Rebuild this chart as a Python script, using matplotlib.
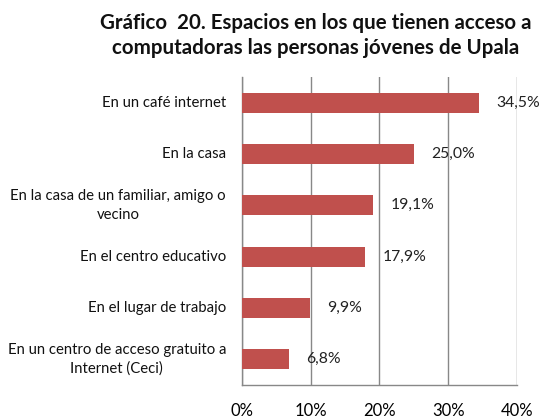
import matplotlib
matplotlib.use("Agg")
from matplotlib import pyplot as plt
from matplotlib.transforms import offset_copy, blended_transform_factory

plt.rcParams['font.family'] = 'Lato'

categories = [
    "En un café internet",
    "En la casa",
    "En la casa de un familiar, amigo o\nvecino",
    "En el centro educativo",
    "En el lugar de trabajo",
    "En un centro de acceso gratuito a\nInternet (Ceci)",
]
values = [34.5, 25.0, 19.1, 17.9, 9.9, 6.8]
xticks = [0, 10, 20, 30, 40]

barcolor = "#C0504D"
gridcolor = "#888888"

fig = plt.figure(figsize=(5.44, 4.18), dpi=100)
ax = fig.add_axes([0.445, 0.079, 0.505, 0.737])

ypos = list(range(len(categories)))
ax.barh(ypos, values, height=0.39, color=barcolor, zorder=3)

for y, v in zip(ypos, values):
    ax.text(v + 2.5, y, ("%.1f%%" % v).replace(".", ","), va="center", ha="left",
            fontsize=11.3, color="#222222", zorder=4)

ax.set_xlim(0, 40)
ax.set_ylim(len(categories) - 0.5, -0.5)
ax.set_xticks(xticks)
ax.set_xticklabels(["%d%%" % t for t in xticks], fontsize=12)
ax.set_yticks(ypos)
ax.set_yticklabels([])
ax.tick_params(axis="both", length=0)
ax.tick_params(axis="x", pad=13)

# category labels: each line placed by hand so wrapped labels are centred
renderer = fig.canvas.get_renderer()
trans = blended_transform_factory(ax.transAxes, ax.transData)
lab_kw = dict(fontsize=10.75, color="#111111", va="center")
xoff = -11.5
for y, c in zip(ypos, categories):
    lines = c.split("\n")
    if len(lines) == 1:
        ax.text(0, y, c, ha="right", transform=offset_copy(trans, fig, x=xoff, units="points"), **lab_kw)
        continue
    first = ax.text(0, y, lines[0], ha="right",
                    transform=offset_copy(trans, fig, x=xoff, y=6.8, units="points"), **lab_kw)
    bb = first.get_window_extent(renderer)
    xc = (bb.x0 + bb.x1) / 2
    second = ax.text(0, y, lines[1], ha="center",
                     transform=offset_copy(trans, fig, x=xoff, y=-6.8, units="points"), **lab_kw)
    bb2 = second.get_window_extent(renderer)
    shift = xc - (bb2.x0 + bb2.x1) / 2
    second.set_transform(offset_copy(trans, fig, x=xoff + shift * 72 / fig.dpi, y=-6.8, units="points"))

ax.grid(axis="x", color=gridcolor, linewidth=1, zorder=0)
for s in ["top", "right"]:
    ax.spines[s].set_visible(False)
for s in ["left", "bottom"]:
    ax.spines[s].set_color(gridcolor)
    ax.spines[s].set_linewidth(1)

fig.text(0.581, 0.915, "Gráfico  20. Espacios en los que tienen acceso a\ncomputadoras las personas jóvenes de Upala",
         ha="center", va="center", fontsize=14.8, fontweight="bold", linespacing=1.28,
         color="#111111")

plt.savefig("out.png", dpi=100)
